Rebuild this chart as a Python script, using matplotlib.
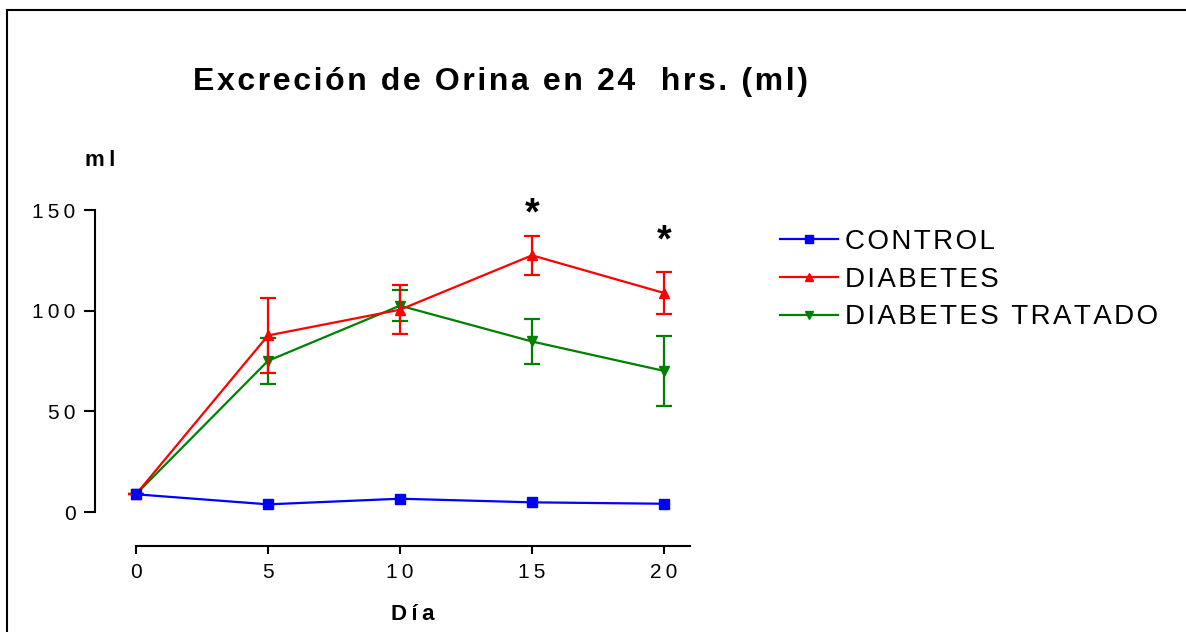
import matplotlib
matplotlib.use("Agg")
import matplotlib.pyplot as plt
from matplotlib.lines import Line2D

plt.rcParams['font.family'] = ['Liberation Sans', 'DejaVu Sans']

dias = [0, 5, 10, 15, 20]
control = [8.8, 3.8, 6.6, 4.8, 4.1]
diabetes = [8.8, 87.7, 100.5, 127.5, 108.8]
diabetes_err = [0, 18.5, 12.2, 9.8, 10.5]
tratado = [8.8, 75.1, 102.5, 84.7, 70.1]
tratado_err = [0, 11.5, 7.6, 11.3, 17.4]
asteriscos_x = [15, 20]
asteriscos_y = [148, 134.5]
y_ticks = [0, 50, 100, 150]
series_labels = ['CONTROL', 'DIABETES', 'DIABETES TRATADO']


def spaced(s, sp='\u200a'):
    # the original software draws text with wide letter spacing
    return sp.join(s)


W, H = 1186, 632
fig = plt.figure(figsize=(W / 100, H / 100), dpi=100)

# axes placed so that x=0 -> px 136, x=20 -> px 664, y=0 -> px 512, y=150 -> px 210
xpu = 26.4
ypu = 2.013
x0, y0 = -1.55, -16.9
x1, y1 = 22.0, 158.0
left = 136 + x0 * xpu
right = 136 + x1 * xpu
bottom = 512 - y0 * ypu
top = 512 - y1 * ypu
ax = fig.add_axes([left / W, 1 - bottom / H, (right - left) / W, (bottom - top) / H])
ax.set_xlim(x0, x1)
ax.set_ylim(y0, y1)

ax.plot(dias, control, color='#0000ff', lw=1.6, marker='s', ms=7, zorder=4)
ax.errorbar(dias, diabetes, yerr=diabetes_err, color='#ff0000', lw=1.6, marker='^', ms=7,
            capsize=6, capthick=1.6, elinewidth=1.6, zorder=3)
ax.errorbar(dias, tratado, yerr=tratado_err, color='#008000', lw=1.6, marker='v', ms=7,
            capsize=6, capthick=1.6, elinewidth=1.6, zorder=2)

for xa, ya in zip(asteriscos_x, asteriscos_y):
    ax.text(xa, ya, '*', ha='center', va='center', fontsize=27, fontweight='bold', clip_on=False)

for s in ['top', 'right']:
    ax.spines[s].set_visible(False)
ax.spines['left'].set_bounds(0, 150)
ax.spines['bottom'].set_bounds(0, 21)
ax.spines['left'].set_linewidth(1.5)
ax.spines['bottom'].set_linewidth(1.5)
ax.set_yticks(y_ticks)
ax.set_yticklabels([spaced(str(v), '\u2009') for v in y_ticks])
ax.set_xticks(dias)
ax.set_xticklabels([spaced(str(v), '\u2009') for v in dias])
ax.tick_params(axis='y', length=8, width=1.5, labelsize=15, pad=6)
ax.tick_params(axis='x', length=6, width=1.5, labelsize=15, pad=6)

fig.text(501 / W, 1 - 82 / H, spaced('Excreción de Orina en 24  hrs. (ml)'), ha='center', va='center',
         fontsize=23, fontweight='bold')
fig.text(100 / W, 1 - 160 / H, spaced('ml', '\u2009'), ha='center', va='center', fontsize=16, fontweight='bold')
fig.text(413 / W, 1 - 614 / H, spaced('Día', '\u2009'), ha='center', va='center', fontsize=16, fontweight='bold')

handles = [
    Line2D([], [], color='#0000ff', lw=1.6, marker='s', ms=6),
    Line2D([], [], color='#ff0000', lw=1.6, marker='^', ms=6),
    Line2D([], [], color='#008000', lw=1.6, marker='v', ms=6),
]
fig.legend(handles, [spaced(t) for t in series_labels], loc='upper left',
           bbox_to_anchor=(766 / W, 1 - 215 / H), frameon=False, fontsize=20,
           handlelength=2.1, handletextpad=0.25, labelspacing=0.42, borderpad=0)

# figure border (top and left only)
fig.add_artist(Line2D([7 / W, 7 / W], [0, 1 - 10 / H], color='black', lw=1.5, transform=fig.transFigure))
fig.add_artist(Line2D([7 / W, 1], [1 - 10 / H, 1 - 10 / H], color='black', lw=1.5, transform=fig.transFigure))

fig.savefig('out.png', dpi=100)
